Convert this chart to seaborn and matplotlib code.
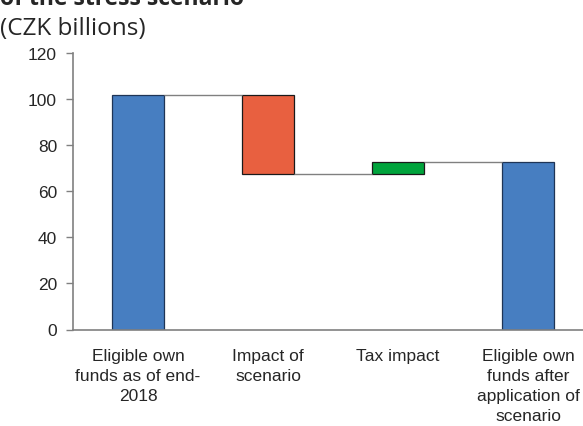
import matplotlib
matplotlib.use("Agg")
import matplotlib.pyplot as plt
import seaborn as sns
import pandas as pd

# Waterfall: own funds before and after the stress scenario (CZK billions)
categories = ["Eligible own\nfunds as of end-\n2018", "Impact of\nscenario",
              "Tax impact", "Eligible own\nfunds after\napplication of\nscenario"]
start_funds = 101.6
scenario_impact = -34.3
tax_impact = 5.4
end_funds = start_funds + scenario_impact + tax_impact

changes = [start_funds, scenario_impact, tax_impact, end_funds]
kinds = ["total", "delta", "delta", "total"]
colors = ["#477EC1", "#E86040", "#00A33C", "#477EC1"]
edges = ["#1F3556", "#1A1A1A", "#1A1A1A", "#1F3556"]

# bottoms and heights of floating bars, plus the running level after each bar
bottoms, heights, levels = [], [], []
level = 0.0
for c, k in zip(changes, kinds):
    if k == "total":
        bottoms.append(0.0)
        heights.append(c)
        level = c
    else:
        new = level + c
        bottoms.append(min(level, new))
        heights.append(abs(c))
        level = new
    levels.append(level)
df = pd.DataFrame({"category": categories, "height": heights, "bottom": bottoms})

sns.set_style("white")
plt.rcParams["font.family"] = ["Liberation Sans", "DejaVu Sans"]

fig = plt.figure(figsize=(5.83, 4.27), dpi=100)
ax = fig.add_axes([73 / 583, (427 - 330.5) / 427, 520 / 583, (330.5 - 54) / 427])

bar_w = 0.4
sns.barplot(data=df, x="category", y="height", ax=ax, width=bar_w,
            palette=colors, hue="category", legend=False, saturation=1)
for i, patch in enumerate(ax.patches):
    patch.set_y(df["bottom"][i])
    patch.set_edgecolor(edges[i])
    patch.set_linewidth(0.9)

# connector lines between bars
half = bar_w / 2
for i in range(len(categories) - 1):
    ax.plot([i + half, i + 1 - half], [levels[i], levels[i]],
            color="#808080", lw=1.0, zorder=1, solid_capstyle="butt")

ax.set_xlim(-0.5, 3.5)
ax.set_ylim(0, 120)
ax.set_yticks(range(0, 121, 20))
ax.set_xlabel("")
ax.set_ylabel("")
ax.set_xticks(range(len(categories)))
ax.set_xticklabels(categories, fontsize=12.5, linespacing=1.42, va="top")
ax.tick_params(axis="x", length=0, pad=13)
ax.tick_params(axis="y", length=5, width=1, color="#808080", labelsize=12.5,
               pad=6.5, direction="out", left=True)
for s in ["top", "right"]:
    ax.spines[s].set_visible(False)
for s in ["left", "bottom"]:
    ax.spines[s].set_color("#808080")
    ax.spines[s].set_linewidth(1.2)

fig.text(0.0, 1 - 5 / 427, "of the stress scenario", fontsize=16.5, fontweight="bold",
         family=["Open Sans", "DejaVu Sans"], va="baseline", ha="left")
fig.text(0.0, 1 - 29 / 427, "(CZK billions)", fontsize=17.5,
         family=["Open Sans", "DejaVu Sans"], va="center", ha="left")

fig.savefig("out.png", dpi=100)
